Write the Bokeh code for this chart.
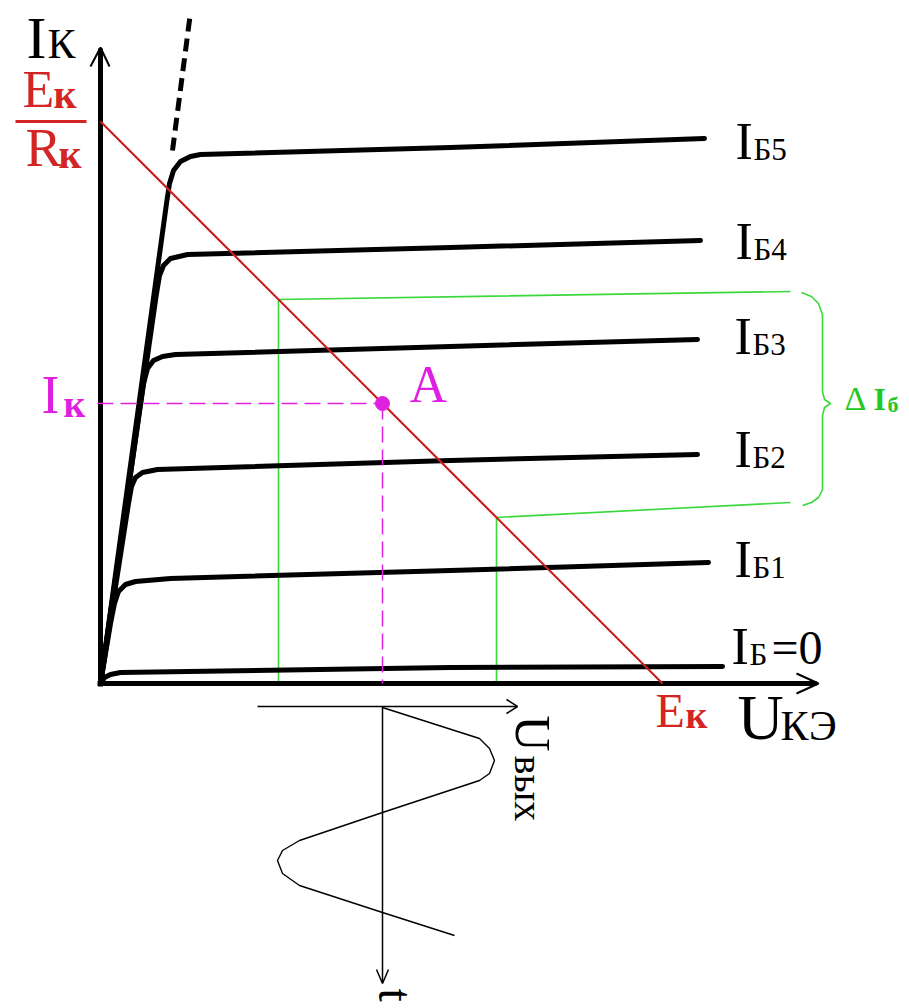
import numpy as np
from bokeh.plotting import figure
from bokeh.models import Range1d
from bokeh.core.properties import value
from bokeh.embed import file_html
from bokeh.resources import INLINE

# ---------------- data (diagram units: U_KE right, I_K up, origin at axes crossing) ----------
curve_b5_u = [0, 66, 69, 73, 80, 90, 100, 350, 604]
curve_b5_i = [0, 480, 500, 513, 522, 527, 529, 536, 545]
curve_b4_u = [0, 56, 59, 63, 70, 87, 350, 600]
curve_b4_i = [0, 390, 408, 418, 425, 429, 436, 443]
curve_b3_u = [0, 40, 43, 47, 53, 62, 75, 350, 597]
curve_b3_i = [0, 280, 300, 315, 323, 327, 329, 337, 344]
curve_b2_u = [0, 28, 31, 35, 42, 57, 350, 597]
curve_b2_i = [0, 180, 197, 206, 211, 214, 223, 229]
curve_b1_u = [0, 10, 14, 18, 25, 35, 70, 350, 608]
curve_b1_i = [0, 60, 80, 92, 99, 102, 105, 113, 121]
curve_b0_u = [0, 4, 10, 20, 350, 622]
curve_b0_i = [0, 6, 9, 11, 16, 17]
breakdown_u = [72, 90]          # dashed continuation of the saturation line
breakdown_i = [533, 671]
curve_labels = ["Б5", "Б4", "Б3", "Б2", "Б1", "Б"]

load_E = 562       # E_k on the U axis
load_IR = 562      # E_k / R_k on the I axis
point_a_u = 282
point_a_i = 280
green_hi_u = 178   # left swing of the working point
green_lo_u = 396   # right swing
green_end_u = 690
green_hi_end_i = 392
green_lo_end_i = 181

# output voltage waveform: offset from the time axis, time downwards
wave_du = [0, 97, 107, 112, 107, 97, 0, -83, -100, -105, -100, -83, 0, 72]
wave_t = [0, 31, 41, 53, 66, 73, 105, 133, 143, 153, 166, 178, 205, 228]

# ---------------- figure ----------------
OX, OY = 100, 683
def X(px):
    return px - OX
def Y(py):
    return OY - py

W, H = 905, 1004
p = figure(width=W, height=H, x_range=Range1d(X(0), X(W)), y_range=Range1d(Y(H), Y(0)),
           output_backend="svg", toolbar_location=None, x_axis_type=None, y_axis_type=None,
           min_border=0)
p.grid.visible = False
p.outline_line_color = None
p.background_fill_color = "white"
p.border_fill_color = "white"

SERIF = value("'Liberation Serif', 'DejaVu Serif', serif")
RED = "#d42525"
MAG = "#e020e0"
GREEN = "#3ad83a"
GTXT = "#22c822"
BLACK = "#000000"
SHIFT = 0.41   # compensation of the renderer's baseline placement (fraction of font size)

def txt(px, py, s, size, color=BLACK, angle=0.0, style="normal", align="left"):
    # (px, py): left end of the text's baseline, in reference pixels
    dx = -SHIFT * size * np.sin(angle)
    dy = -SHIFT * size * np.cos(angle)
    p.text(x=[X(px + dx)], y=[Y(py + dy)], text=[s], text_font=SERIF, text_font_size=f"{size}px",
           text_color=color, text_baseline="alphabetic", text_align=align, angle=angle,
           text_font_style=style)

# green construction lines
p.line([green_hi_u, green_hi_u, green_end_u],
       [0, load_IR - green_hi_u, green_hi_end_i], line_color=GREEN, line_width=1.6)
p.line([green_lo_u, green_lo_u, green_end_u],
       [0, load_IR - green_lo_u, green_lo_end_i], line_color=GREEN, line_width=1.6)
# brace
brace_px = [801, 811, 818, 822, 822, 824, 830, 824, 822, 822, 818, 811, 802]
brace_py = [292, 296, 303, 314, 391, 399, 403, 407, 415, 489, 497, 502, 505]
p.line([X(v) for v in brace_px], [Y(v) for v in brace_py], line_color=GREEN, line_width=1.6)

# characteristics
curves = [(curve_b5_u, curve_b5_i), (curve_b4_u, curve_b4_i), (curve_b3_u, curve_b3_i),
          (curve_b2_u, curve_b2_i), (curve_b1_u, curve_b1_i), (curve_b0_u, curve_b0_i)]
for cu, ci in curves:
    p.line(cu, ci, line_color=BLACK, line_width=5, line_join="round", line_cap="round")
p.line(breakdown_u, breakdown_i, line_color=BLACK, line_width=5, line_dash="13 7")

# axes
p.line([X(100), X(100)], [Y(686), Y(48)], line_color=BLACK, line_width=5)
p.line([X(90), X(100), X(109)], [Y(66), Y(47), Y(66)], line_color=BLACK, line_width=2)
p.line([X(97), X(816)], [Y(683), Y(683)], line_color=BLACK, line_width=5)
p.line([X(796), X(818), X(796)], [Y(673), Y(683), Y(693)], line_color=BLACK, line_width=2)

# load line
p.line([0, load_E], [load_IR, 0], line_color="#cc2020", line_width=2.2)

# working point A
p.line([X(97), point_a_u], [point_a_i, point_a_i], line_color=MAG, line_width=1.5, line_dash="16 7")
p.line([point_a_u, point_a_u], [point_a_i, 0], line_color=MAG, line_width=1.5, line_dash="16 7")
p.scatter([point_a_u], [point_a_i], size=14, color=MAG)

# output waveform axes
p.line([X(257), X(516)], [Y(706), Y(706)], line_color=BLACK, line_width=1.5)
p.line([X(506), X(517), X(506)], [Y(699), Y(706), Y(713)], line_color=BLACK, line_width=1.5)
p.line([point_a_u, point_a_u], [Y(706), Y(982)], line_color=BLACK, line_width=1.5)
p.line([point_a_u - 6, point_a_u, point_a_u + 6], [Y(969), Y(983), Y(969)], line_color=BLACK, line_width=1.5)
p.line([point_a_u + d for d in wave_du], [Y(707 + t) for t in wave_t], line_color=BLACK, line_width=1.4)

# ---------------- texts ----------------
# axis titles
txt(26, 62, "I", 60)
txt(47, 61, "К", 42)
txt(737, 743, "U", 64)
txt(780, 743, "КЭ", 42)
# E_k / R_k
txt(22, 110, "E", 52, RED)
txt(53, 110, "к", 40, RED, style="bold")
p.line([X(15), X(86)], [Y(121), Y(121)], line_color=RED, line_width=3)
txt(25, 170, "R", 54, RED)
txt(58, 170, "к", 40, RED, style="bold")
txt(655, 730, "E", 48, RED)
txt(685, 730, "к", 38, RED, style="bold")
# I_k, A
txt(41, 417, "I", 54, MAG)
txt(63, 419, "к", 38, MAG, style="bold")
txt(409, 405, "A", 52, MAG)
# base-current labels
lab_pos = [(735, 162), (735, 262), (734, 357), (734, 470), (734, 580), (731, 667)]
for (lx, ly), s in zip(lab_pos, curve_labels):
    txt(lx, ly, "I", 52)
    txt(lx + 18, ly, s, 31)
txt(771, 667, "=0", 48)
# delta I_b
txt(844, 412, "Δ", 34, GTXT)
txt(873, 412, "I", 32, GTXT, style="bold")
txt(887, 413, "б", 22, GTXT, style="bold")
# U_out and t (rotated)
txt(512, 715, "U", 50, angle=-np.pi / 2)
txt(512, 755, "вых", 40, angle=-np.pi / 2)
txt(375, 988, "t", 48, angle=-np.pi / 2)

open("out.html", "w").write(file_html(p, INLINE))
